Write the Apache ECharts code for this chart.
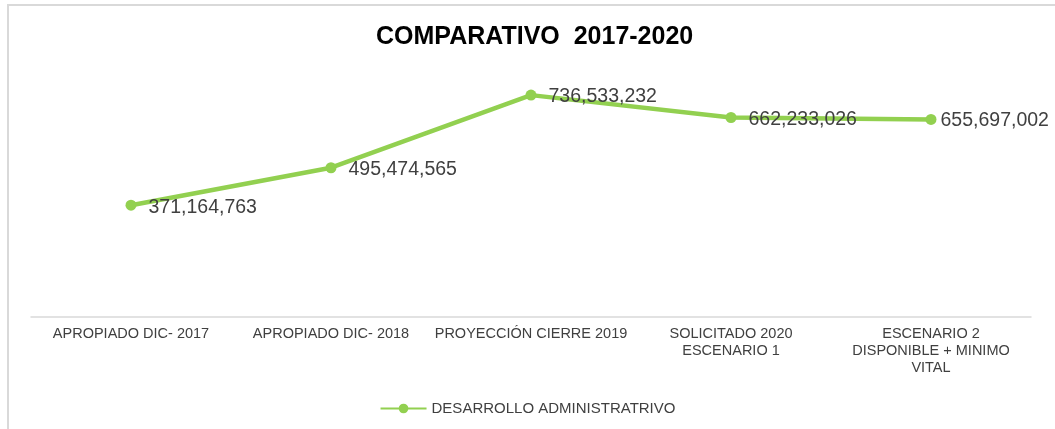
<!DOCTYPE html>
<html>
<head>
<meta charset="utf-8">
<script src="https://cdn.jsdelivr.net/npm/echarts@6/dist/echarts.min.js"></script>
<style>
  html, body { margin: 0; padding: 0; background: #fff; }
  #chart { width: 1055px; height: 429px; }
</style>
</head>
<body>
<div id="chart"></div>
<script>
// Categories along the bottom axis
const categories = [
  'APROPIADO DIC- 2017',
  'APROPIADO DIC- 2018',
  'PROYECCIÓN CIERRE 2019',
  'SOLICITADO 2020\nESCENARIO 1',
  'ESCENARIO 2\nDISPONIBLE + MINIMO\nVITAL'
];

// Budget values per stage
const seriesName = 'DESARROLLO ADMINISTRATRIVO';
const desarrolloValues = [371164763, 495474565, 736533232, 662233026, 655697002];

const green = '#92D050';
const textColor = '#404040';
const fontFamily = '"Liberation Sans", Arial, sans-serif';

// The last value label is pulled in a little so it stays inside the frame
const seriesData = desarrolloValues.map((v, i) =>
  i === desarrolloValues.length - 1
    ? { value: v, label: { offset: [-8, 1] } }
    : v
);

const chart = echarts.init(document.getElementById('chart'));

chart.setOption({
  backgroundColor: '#ffffff',
  animation: false,
  title: {
    text: 'COMPARATIVO  2017-2020',
    left: 371,
    top: 20,
    textStyle: {
      fontFamily: fontFamily,
      fontSize: 25,
      fontWeight: 'bold',
      color: '#000000'
    }
  },
  graphic: [{
    type: 'rect',
    silent: true,
    shape: { x: 8, y: 5, width: 1200, height: 600 },
    style: { fill: 'none', stroke: '#d9d9d9', lineWidth: 2 }
  }],
  legend: {
    bottom: 8,
    left: 'center',
    itemWidth: 46,
    itemHeight: 12,
    itemGap: 10,
    textStyle: { fontFamily: fontFamily, fontSize: 15, color: textColor },
    data: [seriesName]
  },
  grid: { left: 31, right: 24, top: 76, bottom: 112 },
  xAxis: {
    type: 'category',
    data: categories,
    boundaryGap: true,
    axisLine: { lineStyle: { color: '#d9d9d9', width: 1.5 } },
    axisTick: { show: false },
    axisLabel: {
      interval: 0,
      margin: 8,
      color: textColor,
      fontFamily: fontFamily,
      fontSize: 14.5,
      lineHeight: 17,
      align: 'center'
    }
  },
  yAxis: {
    type: 'value',
    min: 0,
    max: 800000000,
    show: false,
    splitLine: { show: false }
  },
  series: [{
    name: seriesName,
    type: 'line',
    data: seriesData,
    symbol: 'circle',
    symbolSize: 11,
    itemStyle: { color: green },
    lineStyle: { color: green, width: 4.5 },
    label: {
      show: true,
      position: 'right',
      distance: 12,
      offset: [0, 2],
      color: textColor,
      fontFamily: fontFamily,
      fontSize: 19.5,
      formatter: p => p.value.toLocaleString('en-US')
    }
  }]
});
</script>
</body>
</html>
